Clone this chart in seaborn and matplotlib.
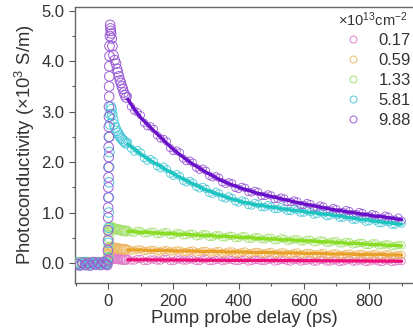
import numpy as np
import pandas as pd
import matplotlib
matplotlib.use("Agg")
import matplotlib.pyplot as plt
from matplotlib.lines import Line2D
from matplotlib.ticker import MultipleLocator
import seaborn as sns

sns.set_style("ticks")
plt.rcParams['font.family'] = ['Liberation Sans', 'DejaVu Sans']
plt.rcParams['mathtext.fontset'] = 'custom'
plt.rcParams['mathtext.rm'] = 'Liberation Sans'
plt.rcParams['mathtext.it'] = 'Liberation Sans'

# ---- data ----
labels = ["0.17", "0.59", "1.33", "5.81", "9.88"]
legend_title = r"$\times$10$^{13}$cm$^{-2}$"
marker_colors = ["#E07CC8", "#EDB866", "#A5E070", "#4CC9D8", "#9A5CD6"]
fit_colors = ["#EC1078", "#E8A028", "#88DD22", "#1EC4C0", "#6A0FC8"]

t_pre = [-95, -87, -79, -71, -63, -55, -47, -39, -31, -23, -15, -8, -3]
pre_pink = [0.01, 0.00, -0.01, 0.01, 0.00, -0.01, 0.00, 0.01, -0.01, 0.00, 0.01, 0.00, -0.01]
pre_orange = [0.00, -0.02, 0.01, -0.01, 0.00, 0.01, -0.02, 0.00, -0.01, 0.01, 0.00, -0.01, 0.00]
pre_green = [-0.01, 0.01, -0.03, 0.00, 0.02, -0.02, 0.00, -0.01, 0.02, -0.02, 0.00, -0.01, 0.01]
pre_cyan = [0.01, -0.03, -0.01, 0.02, -0.04, 0.00, -0.02, 0.01, -0.03, 0.00, -0.01, 0.01, -0.02]
pre_purple = [-0.02, -0.05, 0.01, -0.04, 0.00, -0.05, 0.02, -0.03, 0.01, -0.04, 0.02, -0.02, -0.04]

t_early_pink = [0, 1, 3, 6, 10, 14, 18, 22, 26, 30, 35, 40, 45, 50, 55]
v_early_pink = [0.03, 0.07, 0.10, 0.11, 0.10, 0.10, 0.09, 0.09, 0.09, 0.08, 0.08, 0.08, 0.07, 0.07, 0.07]
t_early_orange = [0, 1, 2, 5, 8, 12, 16, 20, 25, 30, 35, 40, 45, 50, 55]
v_early_orange = [0.08, 0.18, 0.26, 0.31, 0.32, 0.31, 0.30, 0.30, 0.29, 0.29, 0.28, 0.28, 0.27, 0.27, 0.27]
t_early_green = [0, 1, 2, 3, 5, 8, 12, 16, 20, 25, 30, 35, 40, 45, 50, 55]
v_early_green = [0.10, 0.30, 0.50, 0.62, 0.70, 0.72, 0.70, 0.69, 0.68, 0.67, 0.66, 0.66, 0.65, 0.64, 0.64, 0.63]
t_early_cyan = [0, 0.5, 1, 1.5, 2, 2.5, 3, 3.5, 4, 5, 6, 8, 10, 12, 15, 18, 22, 26, 30, 34, 38, 42, 46, 50, 55]
v_early_cyan = [0.10, 0.40, 0.70, 1.00, 1.30, 1.60, 1.90, 2.20, 2.50, 2.75, 2.95, 3.10, 3.05, 2.95, 2.85,
                2.75, 2.68, 2.62, 2.58, 2.53, 2.49, 2.46, 2.43, 2.40, 2.37]
t_early_purple = [-1, -1, -0.5, -0.5, 0, 0, 0.5, 0.5, 1, 1, 1.5, 1.5, 2, 2, 2.5, 2.5, 3, 3, 3.5, 3.5,
                  4, 4, 5, 6, 7, 8, 9, 11, 13, 16, 20, 24, 27, 30, 33, 36, 39, 42, 45, 48, 51, 55]
v_early_purple = [0.05, 0.25, 0.45, 0.65, 0.90, 1.10, 1.30, 1.50, 1.70, 1.90, 2.10, 2.30, 2.50, 2.70,
                  2.90, 3.10, 3.30, 3.50, 3.70, 3.90, 4.10, 4.30, 4.50, 4.72, 4.65, 4.60, 4.55, 4.45,
                  4.30, 4.12, 4.02, 3.95, 3.85, 3.78, 3.70, 3.62, 3.57, 3.50, 3.45, 3.38, 3.33, 3.28]

t_decay = [60, 80, 100, 120, 140, 160, 180, 200, 220, 240, 260, 280, 300, 320, 340, 360, 380, 400,
           420, 440, 460, 480, 500, 520, 540, 560, 580, 600, 620, 640, 660, 680, 700, 720, 740, 760,
           780, 800, 820, 840, 860, 880, 900]
t_decay2 = [70, 90, 110, 130, 150, 170, 190, 210, 230, 250, 270, 290, 310, 330, 350, 370, 390, 410,
            430, 450, 470, 490, 510, 530, 550, 570, 590, 610, 630, 650, 670, 690, 710, 730, 750, 770,
            790, 810, 830, 850, 870, 890]

sc_pink = [0.09, 0.05, 0.08, 0.04, 0.07, 0.05, 0.08, 0.04, 0.07, 0.05, 0.07, 0.04, 0.08, 0.04, 0.07,
           0.05, 0.06, 0.04, 0.07, 0.04, 0.06, 0.04, 0.07, 0.04, 0.06, 0.03, 0.06, 0.04, 0.06, 0.03,
           0.06, 0.03, 0.05, 0.03, 0.06, 0.03, 0.05, 0.03, 0.05, 0.02, 0.05, 0.03, 0.04]
sc_orange = [0.28, 0.25, 0.27, 0.24, 0.26, 0.23, 0.26, 0.23, 0.25, 0.22, 0.25, 0.22, 0.24, 0.21, 0.24,
             0.21, 0.23, 0.20, 0.23, 0.20, 0.22, 0.19, 0.22, 0.19, 0.21, 0.18, 0.21, 0.18, 0.20, 0.17,
             0.20, 0.17, 0.19, 0.16, 0.19, 0.16, 0.18, 0.16, 0.18, 0.15, 0.17, 0.15, 0.16]
sc_green = [0.66, 0.60, 0.63, 0.59, 0.62, 0.58, 0.61, 0.56, 0.59, 0.55, 0.58, 0.54, 0.57, 0.52, 0.55,
            0.51, 0.54, 0.50, 0.53, 0.48, 0.51, 0.47, 0.50, 0.46, 0.48, 0.45, 0.47, 0.43, 0.46, 0.42,
            0.44, 0.41, 0.43, 0.39, 0.41, 0.38, 0.40, 0.36, 0.39, 0.35, 0.37, 0.34, 0.35]
sc_cyan = [2.40, 2.21, 2.19, 2.03, 2.02, 1.88, 1.86, 1.73, 1.72, 1.60, 1.59, 1.48, 1.47, 1.37, 1.38,
           1.28, 1.29, 1.20, 1.22, 1.14, 1.17, 1.11, 1.12, 1.07, 1.08, 1.03, 1.05, 1.00, 1.01, 0.97,
           0.98, 0.94, 0.95, 0.90, 0.91, 0.86, 0.87, 0.83, 0.84, 0.79, 0.81, 0.76, 0.78]
sc_purple = [3.31, 3.02, 2.93, 2.71, 2.66, 2.47, 2.41, 2.22, 2.19, 2.02, 1.99, 1.85, 1.83, 1.70, 1.69,
             1.57, 1.58, 1.47, 1.49, 1.40, 1.41, 1.33, 1.34, 1.27, 1.28, 1.21, 1.22, 1.15, 1.17, 1.10,
             1.12, 1.05, 1.07, 1.01, 1.03, 0.97, 0.99, 0.93, 0.95, 0.90, 0.92, 0.86, 0.84]

sc2_pink = [0.05, 0.08, 0.04, 0.07, 0.05, 0.08, 0.04, 0.07, 0.05, 0.07, 0.04, 0.07, 0.04, 0.06, 0.04,
            0.07, 0.04, 0.06, 0.03, 0.06, 0.04, 0.06, 0.03, 0.06, 0.04, 0.06, 0.03, 0.05, 0.03, 0.06,
            0.03, 0.05, 0.02, 0.05, 0.03, 0.05, 0.02, 0.05, 0.03, 0.05, 0.02, 0.04]
sc2_orange = [0.25, 0.27, 0.24, 0.26, 0.23, 0.25, 0.23, 0.25, 0.22, 0.24, 0.21, 0.24, 0.21, 0.23, 0.20,
              0.23, 0.20, 0.22, 0.19, 0.22, 0.19, 0.21, 0.18, 0.21, 0.18, 0.20, 0.17, 0.20, 0.17, 0.19,
              0.16, 0.19, 0.16, 0.18, 0.15, 0.18, 0.15, 0.17, 0.15, 0.17, 0.14, 0.16]
sc2_green = [0.61, 0.64, 0.59, 0.62, 0.57, 0.61, 0.56, 0.59, 0.55, 0.58, 0.53, 0.57, 0.52, 0.55, 0.51,
             0.54, 0.49, 0.53, 0.48, 0.51, 0.47, 0.50, 0.45, 0.49, 0.44, 0.47, 0.43, 0.46, 0.41, 0.45,
             0.40, 0.43, 0.39, 0.42, 0.37, 0.40, 0.36, 0.39, 0.35, 0.37, 0.33, 0.36]
sc2_cyan = [2.27, 2.24, 2.08, 2.06, 1.92, 1.91, 1.77, 1.76, 1.63, 1.63, 1.51, 1.51, 1.39, 1.41, 1.30,
            1.32, 1.22, 1.24, 1.15, 1.19, 1.11, 1.15, 1.07, 1.11, 1.03, 1.07, 1.00, 1.04, 0.96, 1.01,
            0.93, 0.98, 0.90, 0.94, 0.86, 0.90, 0.82, 0.87, 0.79, 0.83, 0.76, 0.80]
sc2_purple = [3.10, 2.99, 2.78, 2.71, 2.53, 2.46, 2.28, 2.23, 2.07, 2.03, 1.89, 1.87, 1.73, 1.72, 1.60,
              1.60, 1.49, 1.51, 1.41, 1.43, 1.33, 1.36, 1.27, 1.30, 1.21, 1.24, 1.15, 1.19, 1.10, 1.14,
              1.05, 1.09, 1.01, 1.05, 0.97, 1.01, 0.93, 0.97, 0.89, 0.94, 0.86, 0.90]

fit_pink = [0.065, 0.064, 0.064, 0.063, 0.062, 0.062, 0.061, 0.060, 0.060, 0.059, 0.058, 0.058, 0.057,
            0.056, 0.056, 0.055, 0.054, 0.054, 0.053, 0.052, 0.052, 0.051, 0.050, 0.050, 0.049, 0.048,
            0.048, 0.047, 0.046, 0.046, 0.045, 0.044, 0.044, 0.043, 0.042, 0.042, 0.041, 0.040, 0.040,
            0.039, 0.038, 0.037, 0.036]
fit_orange = [0.26, 0.26, 0.26, 0.25, 0.25, 0.25, 0.25, 0.24, 0.24, 0.24, 0.24, 0.23, 0.23, 0.23, 0.23,
              0.22, 0.22, 0.22, 0.22, 0.21, 0.21, 0.21, 0.21, 0.20, 0.20, 0.20, 0.20, 0.19, 0.19, 0.19,
              0.19, 0.18, 0.18, 0.18, 0.18, 0.17, 0.17, 0.17, 0.17, 0.17, 0.16, 0.16, 0.16]
fit_green = [0.63, 0.62, 0.61, 0.61, 0.60, 0.59, 0.59, 0.58, 0.57, 0.57, 0.56, 0.55, 0.55, 0.54, 0.53,
             0.53, 0.52, 0.51, 0.51, 0.50, 0.49, 0.48, 0.48, 0.47, 0.46, 0.46, 0.45, 0.44, 0.44, 0.43,
             0.42, 0.42, 0.41, 0.40, 0.39, 0.39, 0.38, 0.37, 0.37, 0.36, 0.35, 0.35, 0.34]
fit_cyan = [2.36, 2.26, 2.16, 2.07, 1.99, 1.92, 1.84, 1.77, 1.70, 1.63, 1.57, 1.51, 1.45, 1.40, 1.36,
            1.31, 1.27, 1.23, 1.20, 1.17, 1.15, 1.13, 1.11, 1.09, 1.07, 1.05, 1.04, 1.02, 1.00, 0.99,
            0.97, 0.96, 0.94, 0.92, 0.90, 0.88, 0.86, 0.85, 0.83, 0.81, 0.80, 0.78, 0.77]
fit_purple = [3.25, 3.05, 2.88, 2.75, 2.62, 2.50, 2.37, 2.25, 2.15, 2.05, 1.96, 1.88, 1.80, 1.73, 1.66,
              1.60, 1.55, 1.50, 1.46, 1.42, 1.38, 1.35, 1.32, 1.29, 1.26, 1.23, 1.20, 1.17, 1.15, 1.12,
              1.10, 1.07, 1.05, 1.03, 1.01, 0.99, 0.97, 0.95, 0.93, 0.92, 0.90, 0.88, 0.86]

pre_vals = [pre_pink, pre_orange, pre_green, pre_cyan, pre_purple]
early_t = [t_early_pink, t_early_orange, t_early_green, t_early_cyan, t_early_purple]
early_v = [v_early_pink, v_early_orange, v_early_green, v_early_cyan, v_early_purple]
sc_vals = [sc_pink, sc_orange, sc_green, sc_cyan, sc_purple]
sc2_vals = [sc2_pink, sc2_orange, sc2_green, sc2_cyan, sc2_purple]
fit_vals = [fit_pink, fit_orange, fit_green, fit_cyan, fit_purple]

# ---- figure ----
W, H = 414, 336
fig = plt.figure(figsize=(W / 100, H / 100), dpi=100)
ax = fig.add_axes([0.181, 0.157, 0.819, 0.823])

for i in range(5):
    df_early = pd.DataFrame({
        "t": list(t_pre) + list(early_t[i]),
        "v": list(pre_vals[i]) + list(early_v[i]),
    })
    df_tail = pd.DataFrame({
        "t": list(t_decay) + list(t_decay2),
        "v": list(sc_vals[i]) + list(sc2_vals[i]),
    })
    sns.scatterplot(data=df_early, x="t", y="v", ax=ax, marker="o", s=48,
                    facecolors="none", edgecolor=marker_colors[i], linewidth=0.7,
                    legend=False, zorder=2 + i)
    sns.scatterplot(data=df_tail, x="t", y="v", ax=ax, marker="o", s=28,
                    facecolors="none", edgecolor=marker_colors[i], linewidth=0.6,
                    legend=False, zorder=2 + i)

for i in range(5):
    dff = pd.DataFrame({"t": t_decay, "v": fit_vals[i]})
    sns.lineplot(data=dff, x="t", y="v", ax=ax, color=fit_colors[i], linewidth=2.4,
                 legend=False, zorder=10 + i)

ax.set_xlim(-102, 938)
ax.set_ylim(-0.40, 5.08)
ax.set_xticks([0, 200, 400, 600, 800])
ax.set_yticks([0, 1, 2, 3, 4, 5])
ax.set_yticklabels(["0.0", "1.0", "2.0", "3.0", "4.0", "5.0"])
ax.xaxis.set_minor_locator(MultipleLocator(100))
ax.yaxis.set_minor_locator(MultipleLocator(0.5))
ax.tick_params(axis="both", which="major", direction="out", length=4, width=0.8,
               labelsize=12, colors="#555555", labelcolor="#333333")
ax.tick_params(axis="both", which="minor", direction="out", length=2, width=0.8, colors="#555555")
for s in ["left", "bottom", "top"]:
    ax.spines[s].set_color("#666666")
    ax.spines[s].set_linewidth(1.0)
ax.spines["right"].set_visible(False)

ax.set_xlabel("Pump probe delay (ps)", fontsize=13.3, color="#333333", labelpad=1)
ax.set_ylabel(r"Photoconductivity ($\times$10$^{3}$ S/m)", fontsize=13.3, color="#333333", labelpad=3)

# legend title as separate text
fig.text(338 / W, 1 - 26 / H, legend_title, ha="left", va="baseline",
         fontsize=10.5, color="#333333")

handles = [Line2D([], [], marker="o", linestyle="none", markerfacecolor="none",
                  markeredgecolor=marker_colors[i], markersize=5.0, markeredgewidth=0.7)
           for i in range(5)]
leg = fig.legend(handles, labels, loc="upper left",
                 bbox_to_anchor=(345 / W, 1 - 33 / H), bbox_transform=fig.transFigure,
                 frameon=False, fontsize=12, handlelength=1.0, handletextpad=1.0,
                 labelspacing=0.3, borderpad=0.0, borderaxespad=0.0)
for txt in leg.get_texts():
    txt.set_color("#333333")

fig.savefig("out.png", dpi=100)
